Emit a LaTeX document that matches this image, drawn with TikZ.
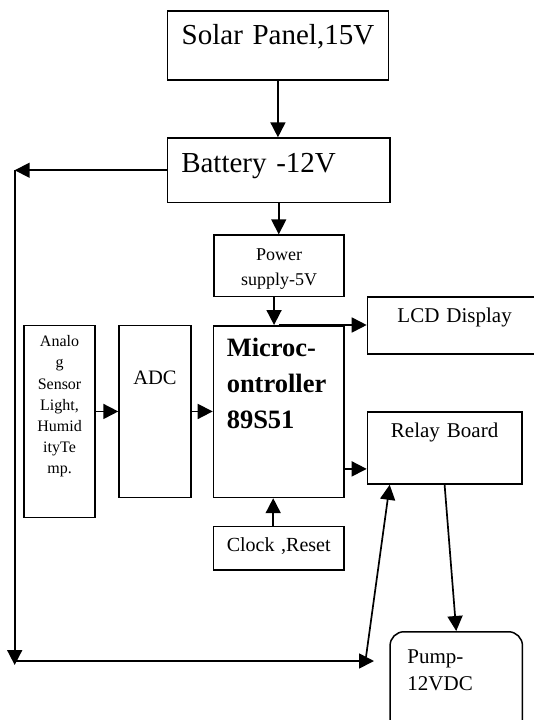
\documentclass[tikz,border=0pt]{standalone}
\usepackage{fontspec}
\setmainfont{Liberation Serif}
\usetikzlibrary{arrows.meta}
\begin{document}
\begin{tikzpicture}[x=1pt,y=-1pt,
  blk/.style={draw,line width=1.5pt,inner sep=0pt,anchor=north west},
  arr/.style={line width=1.7pt,-{Triangle[length=15pt,width=15pt]}}]
\useasboundingbox (0,0) rectangle (534,720);
\node[blk,text width=221pt,align=center,text height=33.3pt,text depth=36pt,font=\fontsize{29}{34}\selectfont] (solar) at (166.7,10) {Solar Panel,15V};
\node[blk,inner xsep=13.8pt,text width=195pt,align=left,text height=34.4pt,text depth=30pt,font=\fontsize{29}{34}\selectfont] (bat) at (166.7,137.3) {Battery -12V};
\node[blk,text width=130pt,align=center,text height=25pt,text depth=36.4pt,font=\fontsize{18}{25}\selectfont] (ps) at (213.3,234.3) {Power\\supply-5V};
\node[blk,inner xsep=13.3pt,text width=104pt,align=left,text height=31pt,text depth=140.7pt,font=\fontsize{26.5}{36}\selectfont\bfseries] (mcu) at (212.7,325) {Microc-\\ontroller\\89S51};
\node[blk,inner xsep=30pt,text width=150pt,align=left,text height=25.7pt,text depth=31.3pt,font=\fontsize{21}{26}\selectfont] (lcd) at (366.7,296) {LCD Display};
\node[blk,text width=154.3pt,align=center,text height=25.7pt,text depth=46.6pt,font=\fontsize{21}{26}\selectfont] (relay) at (366.7,411) {Relay Board};
\node[blk,text width=130.1pt,align=center,text height=25pt,text depth=18.3pt,font=\fontsize{20}{25}\selectfont] (clk) at (212.9,525.7) {Clock ,Reset};
\node[blk,text width=71pt,align=center,text height=21.3pt,text depth=170.7pt,font=\fontsize{16}{21.2}\selectfont] (sens) at (23.3,324.7) {Analo\\g\\Sensor\\Light,\\Humid\\ityTe\\mp.};
\node[blk,text width=71.7pt,align=center,text height=58.6pt,text depth=113.4pt,font=\fontsize{20.5}{25}\selectfont] (adc) at (118.3,324.7) {ADC};
\node[blk,rounded corners=14pt,inner xsep=17.4pt,text width=97.6pt,align=left,text height=31.7pt,text depth=120pt,font=\fontsize{21}{26.6}\selectfont] (pump) at (389.3,631) {Pump-\\12VDC};
\coordinate (tl) at (14.7,170);
\coordinate (bl) at (14.7,665);
\coordinate (br) at (374,661);
\coordinate (sl) at (366,657);
\draw[arr] (solar.south) -- (solar.south |- bat.north);
\draw[arr] (bat.south) -- (bat.south |- ps.north);
\draw[arr] ([xshift=-5pt]ps.south) -- ([xshift=-5pt]ps.south |- mcu.north);
\draw[arr] (mcu.north) -- (mcu.north -| lcd.west);
\draw[arr] (sens.east |- adc.west) -- (adc.west);
\draw[arr] (adc.east) -- (adc.east -| mcu.west);
\draw[arr] ([yshift=-21pt]relay.west -| mcu.east) -- ([yshift=-21pt]relay.west);
\draw[arr] ([xshift=-5.5pt]clk.north) -- ([xshift=-5.5pt]clk.north |- mcu.south);
\draw[arr] (bat.west) -- (bat.west -| tl);
\draw[arr] (tl) -- (bl);
\draw[arr] (bl |- br) -- (br);
\draw[arr] (sl) -- ([xshift=23pt]relay.south west);
\draw[arr] (relay.south) -- (pump.north);
\end{tikzpicture}
\end{document}
